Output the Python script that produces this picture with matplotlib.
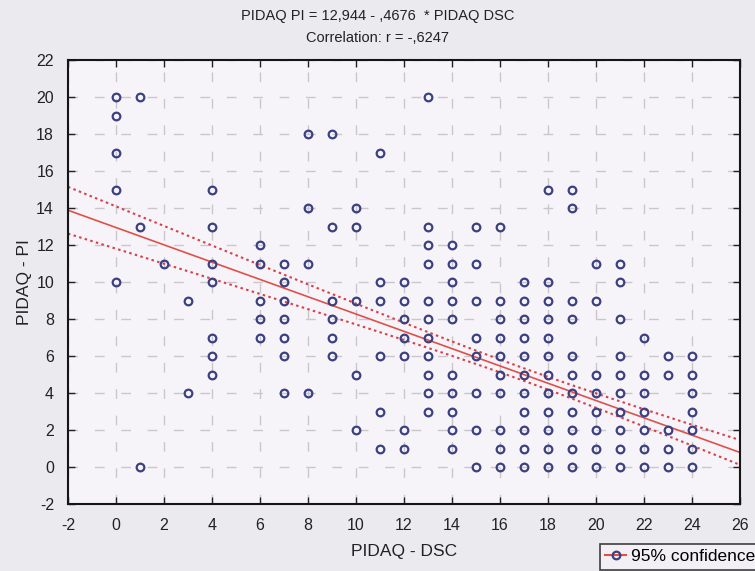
import numpy as np
import matplotlib
matplotlib.use('Agg')
import matplotlib.pyplot as plt
from matplotlib.lines import Line2D

# Scatter data: one list of PI scores per DSC value
dsc_values = [0, 1, 2, 3, 4, 6, 7, 8, 9, 10, 11, 12,
              13, 14, 15, 16, 17, 18, 19, 20, 21, 22, 23, 24]
pi_scores = [
    [20, 19, 17, 15, 10],
    [20, 13, 0],
    [11],
    [9, 4],
    [15, 13, 11, 10, 7, 6, 5],
    [12, 11, 9, 8, 7],
    [11, 10, 9, 8, 7, 6, 4],
    [18, 14, 11, 4],
    [18, 13, 9, 8, 7, 6],
    [14, 13, 9, 5, 2],
    [17, 10, 9, 6, 3, 1],
    [10, 9, 8, 7, 6, 2, 1],
    [20, 13, 12, 11, 9, 8, 7, 6, 5, 4, 3],
    [12, 11, 10, 9, 8, 5, 4, 3, 2, 1],
    [13, 11, 9, 7, 6, 4, 2, 0],
    [13, 9, 8, 7, 6, 5, 4, 2, 1, 0],
    [10, 9, 8, 7, 6, 5, 4, 3, 2, 1, 0],
    [15, 10, 9, 8, 7, 6, 5, 4, 3, 2, 1, 0],
    [15, 14, 9, 8, 6, 5, 4, 3, 2, 1, 0],
    [11, 9, 5, 4, 3, 2, 1, 0],
    [11, 10, 8, 6, 5, 4, 3, 2, 1, 0],
    [7, 5, 4, 3, 2, 1, 0],
    [6, 5, 2, 1, 0],
    [6, 5, 4, 3, 2, 1, 0],
]

# Regression from the chart title
intercept = 12.944
slope = -0.4676
r_value = -0.6247

# Estimated summary stats of the full sample (for the 95% band)
n_obs = 390
x_mean = 17.0
x_var = 28.0
resid_sd = 3.4
t_crit = 1.97

x_ticks = list(range(-2, 27, 2))
y_ticks = list(range(-2, 23, 2))

plt.rcParams['font.family'] = ['Liberation Sans Narrow', 'Liberation Sans', 'DejaVu Sans']
plt.rcParams['axes.unicode_minus'] = False

fig = plt.figure(figsize=(7.55, 5.71), dpi=100, facecolor='#ebeaee')
ax = fig.add_axes([68 / 755, 1 - 504 / 571, 672 / 755, 444 / 571])
ax.set_facecolor('#f6f4f8')

# points
xs = []
ys = []
for x, scores in zip(dsc_values, pi_scores):
    for y in scores:
        xs.append(x)
        ys.append(y)
ax.plot(xs, ys, linestyle='none', marker='o', markersize=5.5, markerfacecolor='none',
        markeredgecolor='#3b4080', markeredgewidth=1.6, zorder=3)

# regression line + 95% confidence band
xline = np.linspace(-2, 26, 200)
yline = intercept + slope * xline
half = t_crit * resid_sd * np.sqrt(1 / n_obs + (xline - x_mean) ** 2 / (n_obs * x_var))
ax.plot(xline, yline, color='#e0504a', linewidth=1.2, zorder=2)
ax.plot(xline, yline + half, color='#d8404a', linestyle=(0, (1.2, 1.6)), linewidth=1.5, zorder=2)
ax.plot(xline, yline - half, color='#d8404a', linestyle=(0, (1.2, 1.6)), linewidth=1.5, zorder=2)

ax.set_xlim(-2, 26)
ax.set_ylim(-2, 22)
ax.set_xticks(x_ticks)
ax.set_yticks(y_ticks)
ax.tick_params(direction='in', top=True, right=True, length=5, width=1,
               labelsize=11.5, colors='#222222')
ax.tick_params(axis='x', pad=10)
ax.tick_params(axis='y', pad=10)
ax.grid(True, color='#c9c7cc', linestyle=(0, (7, 12)), linewidth=1)
for sp in ax.spines.values():
    sp.set_linewidth(1.5)
    sp.set_color('#151515')

ax.set_xlabel('PIDAQ - DSC', fontsize=12.5, labelpad=8, color='#222222')
ax.set_ylabel('PIDAQ - PI', fontsize=12.5, labelpad=3, color='#222222')

fig.text(0.5, 1 - 16 / 571,
         'PIDAQ PI = %s - %s  * PIDAQ DSC' % (f'{intercept:.3f}'.replace('.', ','),
                                                f'{-slope:.4f}'.replace('0.', ',')),
         ha='center', va='center', fontsize=10.5, color='#222222')
fig.text(0.5, 1 - 38 / 571, 'Correlation: r = -%s' % f'{-r_value:.4f}'.replace('0.', ','),
         ha='center', va='center', fontsize=10.5, color='#222222')

handle = Line2D([0], [0], color='#e0504a', linewidth=1.5, marker='o', markersize=5.5,
                markerfacecolor='none', markeredgecolor='#3b4080', markeredgewidth=1.6)
leg = fig.legend([handle], ['95% confidence'], loc='upper left',
                 bbox_to_anchor=(600 / 755, 1 - 544 / 571), frameon=True, fancybox=False,
                 fontsize=12.5, handlelength=1.2, handletextpad=0.3, borderpad=0.3,
                 borderaxespad=0)
leg.get_frame().set_edgecolor('#111111')
leg.get_frame().set_linewidth(1.2)
leg.get_frame().set_facecolor('#f4f2f6')

fig.savefig('out.png', dpi=100, facecolor=fig.get_facecolor())
